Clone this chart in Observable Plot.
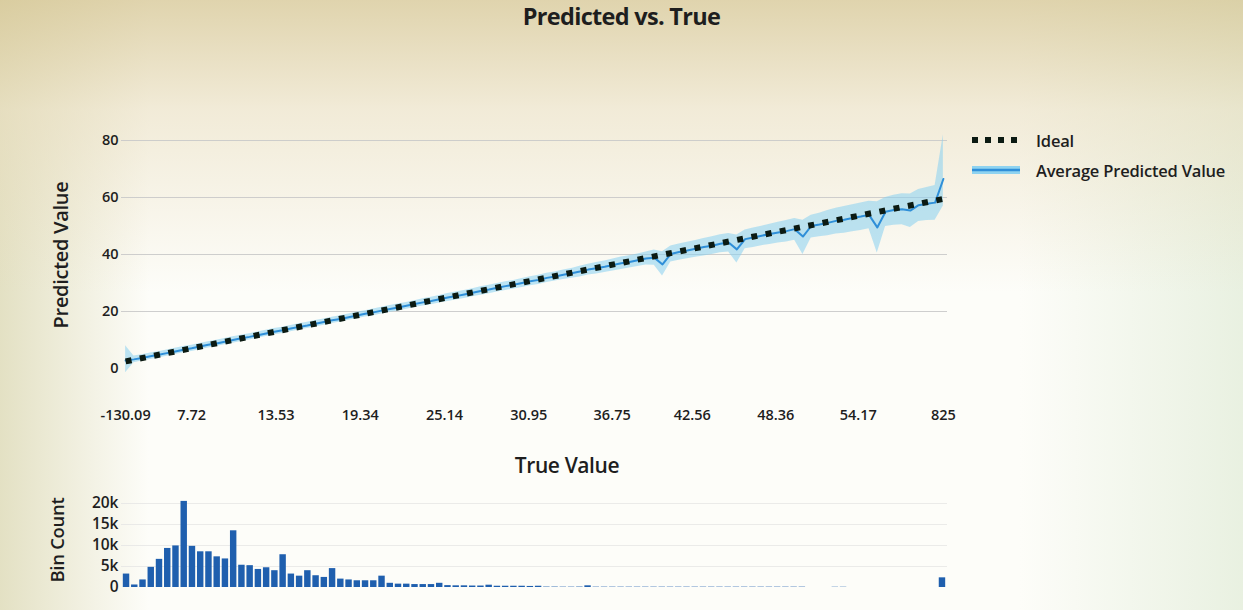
<!DOCTYPE html>
<html>
<head>
<meta charset="utf-8">
<script src="https://cdn.jsdelivr.net/npm/d3@7"></script>
<script src="https://cdn.jsdelivr.net/npm/@observablehq/plot@0.6"></script>
<style>
  html, body { margin: 0; padding: 0; }
  body {
    width: 1243px; height: 610px; overflow: hidden; position: relative;
    font-family: "Open Sans", "DejaVu Sans", sans-serif; color: #1e1e1e;
    background:
      linear-gradient(180deg, rgba(214,198,148,0.75) 0%, rgba(232,220,188,0.55) 18%, rgba(255,255,255,0) 48%),
      linear-gradient(90deg, rgba(196,190,130,0.45) 0%, rgba(255,255,255,0) 12%, rgba(255,255,255,0) 82%, rgba(222,234,212,0.65) 100%),
      #fdfdf9;
  }
  #title { position: absolute; left: 0; width: 1243px; top: 0px; text-align: center;
    font-size: 23.5px; font-weight: 700; letter-spacing: -0.7px; }
  #topChart { position: absolute; left: 0; top: 0; }
  #bottomChart { position: absolute; left: 0; top: 480px; }
  .ytitle { position: absolute; transform: translate(-50%, -50%) rotate(-90deg);
    font-size: 20px; font-weight: 600; white-space: nowrap; letter-spacing: -0.3px; }
  #xtitle { position: absolute; left: 567px; top: 465px; transform: translate(-50%, -50%);
    font-size: 21px; font-weight: 600; letter-spacing: -0.4px; }
  #legend { position: absolute; left: 970px; top: 130px; font-size: 16.5px; font-weight: 600; letter-spacing: -0.2px; }
  #legend .item { display: flex; align-items: center; height: 20px; margin-bottom: 10px; }
  #legend svg { margin-right: 14px; }
</style>
</head>
<body>
<div id="title">Predicted vs. True</div>
<div id="topChart"></div>
<div id="bottomChart"></div>
<div class="ytitle" style="left:60px; top:255px;">Predicted Value</div>
<div class="ytitle" style="left:56px; top:540px; font-size:18.5px;">Bin Count</div>
<div id="xtitle">True Value</div>
<div id="legend">
  <div class="item">
    <svg width="52" height="12"><line x1="2" x2="50" y1="6" y2="6" stroke="#0b1a12" stroke-width="6" stroke-dasharray="6,7"/></svg>
    <span>Ideal</span>
  </div>
  <div class="item">
    <svg width="52" height="12"><line x1="2" x2="50" y1="6" y2="6" stroke="#8fd3f0" stroke-width="8"/><line x1="2" x2="50" y1="6" y2="6" stroke="#2f8fd8" stroke-width="2.5"/></svg>
    <span>Average Predicted Value</span>
  </div>
</div>
<script>
// ---- data ----
// x tick positions (bin index) and their labels (true value bin edges)
const tickBins = [0, 8, 18.2, 28.4, 38.6, 48.8, 58.9, 68.6, 78.7, 88.7, 99];
const tickLabels = ["-130.09", "7.72", "13.53", "19.34", "25.14", "30.95", "36.75", "42.56", "48.36", "54.17", "825"];

// Ideal line (straight, from first to last bin)
const idealBins = [0, 99];
const idealValues = [2.5, 59.5];

// Average predicted value per bin
const avgPred = [2.8,3.2,3.7,4.3,4.8,5.4,6.0,6.6,7.1,7.7, 8.3,8.8,9.4,10.0,10.6,11.1,11.7,12.3,12.9,13.4,
  14.0,14.6,15.1,15.7,16.3,16.9,17.4,18.0,18.6,19.2, 19.7,20.3,20.9,21.4,22.0,22.6,23.2,23.7,24.3,24.9,
  25.4,26.0,26.6,27.2,27.7,28.3,28.9,29.4,30.0,30.6, 31.1,31.8,32.3,32.9,33.4,34.0,34.7,35.2,35.7,36.3,
  36.9,37.4,38.0,38.6,38.9,36.5,40.2,40.9,41.4,42.0, 42.6,43.1,43.8,44.2,41.8,45.4,46.0,46.6,47.2,47.7,
  48.2,48.9,46.3,50.0,50.5,51.1,51.8,52.2,52.8,53.3, 53.9,49.5,55.0,55.6,55.9,55.4,57.3,57.8,58.2,66.5];

// shaded band: lower and upper bound per bin
const bandLow = [-1.5,2.0,2.6,3.2,3.7,4.3,4.9,5.5,6.0,6.6, 7.2,7.7,8.3,8.9,9.5,10.0,10.6,11.2,11.8,12.3,
  12.9,13.5,14.0,14.6,15.2,15.8,16.3,16.9,17.5,18.1, 18.5,19.1,19.7,20.2,20.8,21.4,21.9,22.4,23.0,23.5,
  24.0,24.6,25.2,25.7,26.2,26.8,27.4,27.9,28.4,29.0, 29.5,30.2,30.7,31.2,31.7,32.1,32.8,33.2,33.7,34.2,
  34.7,35.3,35.8,36.3,36.2,32.5,37.4,38.0,38.5,39.0, 39.5,40.0,40.6,40.9,37.0,42.0,42.5,43.1,43.5,44.0,
  44.4,45.0,40.0,45.8,46.2,46.6,47.2,47.5,48.0,48.4, 49.0,40.5,49.8,50.3,50.4,49.5,51.6,51.9,52.0,57.0];
const bandHigh = [8.0,4.4,4.8,5.4,5.9,6.5,7.1,7.7,8.2,8.8, 9.4,9.9,10.5,11.1,11.7,12.2,12.8,13.4,14.0,14.5,
  15.1,15.7,16.2,16.8,17.4,18.0,18.5,19.1,19.7,20.3, 20.9,21.5,22.1,22.6,23.2,23.8,24.5,25.0,25.6,26.3,
  26.8,27.4,28.0,28.7,29.2,29.8,30.4,30.9,31.6,32.2, 32.7,33.4,33.9,34.6,35.1,35.9,36.6,37.2,37.7,38.4,
  39.1,39.6,40.2,40.9,41.6,41.0,43.0,43.7,44.3,44.9, 45.6,46.2,46.9,47.4,46.8,48.6,49.3,49.9,50.6,51.3,
  51.9,52.6,52.0,53.8,54.5,55.4,56.2,56.8,57.5,58.1, 58.7,58.5,60.0,60.8,61.3,61.2,62.8,63.5,64.2,82.0];

// histogram bin counts
const binCounts = [3200,600,1800,4800,6700,9300,9900,20500,9800,8500, 8500,7300,6800,13500,5300,5200,4300,4700,4000,7800,
  3200,2700,4000,2800,2400,4500,2000,1800,1600,1600, 1600,2700,1000,800,800,700,700,700,1000,450,
  400,400,350,350,550,300,300,300,300,250, 300,100,100,80,80,100,400,80,80,80,
  80,80,80,80,80,80,80,80,80,80, 80,80,80,80,80,80,80,80,80,80,
  80,80,80,0,0,0,60,60,0,0, 0,0,0,0,0,0,0,0,0,2300];

const yTicks = [0, 20, 40, 60, 80];
const countTicks = [0, 5000, 10000, 15000, 20000];
const countTickLabels = ["0", "5k", "10k", "15k", "20k"];

// ---- build tables ----
const rows = avgPred.map((v, i) => ({bin: i, avg: v, lo: bandLow[i], hi: bandHigh[i]}));
const ideal = idealBins.map((b, i) => ({bin: b, v: idealValues[i]}));
const hist = binCounts.map((c, i) => ({bin: i, count: c}));
const tickMap = new Map(tickBins.map((b, i) => [b, tickLabels[i]]));
const countMap = new Map(countTicks.map((c, i) => [c, countTickLabels[i]]));

const common = {
  width: 1243, marginLeft: 121, marginRight: 296,
  style: {background: "transparent", fontFamily: "Open Sans, sans-serif", color: "#1e1e1e", overflow: "visible"}
};

const topPlot = Plot.plot({
  ...common,
  height: 480, marginTop: 140, marginBottom: 112,
  x: {domain: [-0.5, 99.5]},
  y: {domain: [0, 80]},
  marks: [
    Plot.gridY([20, 40, 60, 80], {stroke: "#c9c9c9", strokeOpacity: 0.9}),
    Plot.areaY(rows, {x: "bin", y1: "lo", y2: "hi", fill: "#86d0f0", fillOpacity: 0.55}),
    Plot.lineY(rows, {x: "bin", y: "avg", stroke: "#2f8fd8", strokeWidth: 2}),
    Plot.line(ideal, {x: "bin", y: "v", stroke: "#0b1a12", strokeWidth: 6, strokeLinecap: "butt", strokeDasharray: "6,8.5"}),
    Plot.axisY(yTicks, {tickSize: 0, tickPadding: 3, label: null, fontSize: 14.5, fontWeight: 600}),
    Plot.axisX(tickBins, {tickSize: 0, tickPadding: 41, label: null, tickFormat: d => tickMap.get(d), fontSize: 14.5, fontWeight: 600})
  ]
});
document.getElementById("topChart").appendChild(topPlot);

const bottomPlot = Plot.plot({
  ...common,
  height: 130, marginTop: 23, marginBottom: 23,
  x: {type: "band", domain: hist.map(d => d.bin), padding: 0.22, round: false, axis: null},
  y: {domain: [0, 20000]},
  marks: [
    Plot.gridY([5000, 10000, 15000, 20000], {stroke: "#e2e2e2", strokeOpacity: 0.7}),
    Plot.barY(hist, {x: "bin", y: "count", fill: "#1f5fae"}),
    Plot.axisY(countTicks, {tickSize: 0, tickPadding: 3, label: null, tickFormat: d => countMap.get(d), fontSize: 15.5, fontWeight: 600})
  ]
});
document.getElementById("bottomChart").appendChild(bottomPlot);
</script>
</body>
</html>
